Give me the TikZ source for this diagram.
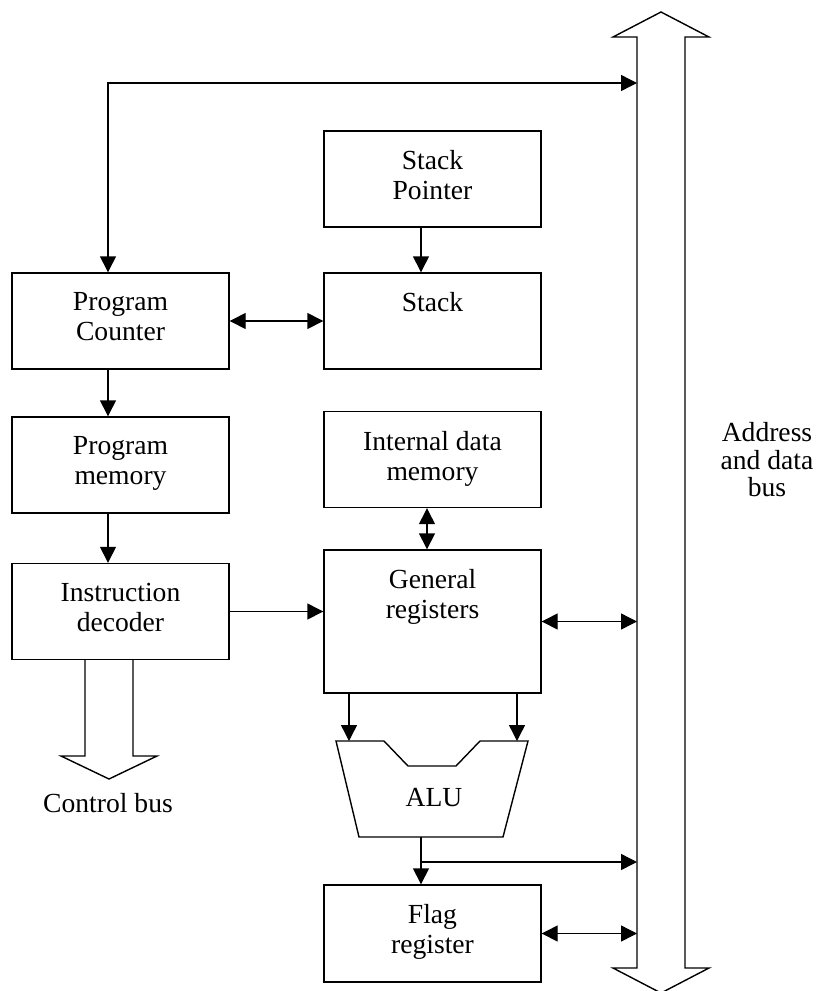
\documentclass[tikz,border=0pt]{standalone}
\usepackage{fontspec}
\setmainfont{Liberation Serif}
\usetikzlibrary{arrows.meta}
\tikzset{
    blk/.style={draw, line width=0.7pt, minimum width=108.5pt, minimum height=48pt, inner sep=0pt},
    txt/.style={anchor=north, yshift=-6.5pt, align=center, font=\fontsize{13.8}{15}\selectfont},
    arr/.style={line width=0.7pt, -{Triangle[length=8pt,width=8pt]}},
    darr/.style={line width=0.7pt, {Triangle[length=8pt,width=8pt]}-{Triangle[length=8pt,width=8pt]}},
}
\begin{document}
\begin{tikzpicture}[x=0.5pt, y=-0.5pt]
    \useasboundingbox (0,0) rectangle (815,991);

    \node[blk, label={[txt]north:Stack\\Pointer}] (sp) at (432.5,179) {};
    \node[blk, label={[txt]north:Stack}] (st) at (432.5,321) {};
    \node[blk, label={[txt]north:Program\\Counter}] (pc) at (120.5,321) {};
    \node[blk, label={[txt]north:Program\\memory}] (pm) at (120.5,465) {};
    \node[blk, label={[txt]north:Instruction\\decoder}] (id) at (120.5,611.5) {};
    \node[blk, label={[txt]north:Internal data\\memory}] (idm) at (432.5,459.5) {};
    \node[blk, minimum height=71.5pt, label={[txt]north:General\\registers}] (gr) at (432.5,621.5) {};
    \node[blk, minimum height=48.5pt, label={[txt]north:Flag\\register}] (fl) at (432.5,933.5) {};

    % address and data bus
    \draw[line width=0.7pt] (637,968) -- (637,37) -- (613,37) -- (661,12) -- (709,37) -- (685,37)
        -- (685,968) -- (709,968) -- (661,993) -- (613,968) -- cycle;
    \node[align=center, font=\fontsize{13.8}{13.75}\selectfont] (busname) at (767,460) {Address\\and data\\bus};

    \coordinate (lx) at (108,0);
    \coordinate (mx) at (421,0);
    \coordinate (busl) at (637,0);
    \coordinate (topc) at (108,83);

    \draw[darr] (lx |- pc.north) -- (topc) -- (topc -| busl);
    \draw[arr] (lx |- pc.south) -- (lx |- pm.north);
    \draw[arr] (lx |- pm.south) -- (lx |- id.north);
    \draw[arr] (mx |- sp.south) -- (mx |- st.north);
    \draw[darr] (pc.east) -- (st.west);
    \draw[darr] ([xshift=-2.75pt]idm.south) -- ([xshift=-2.75pt]gr.north);
    \draw[arr] (id.east) -- (id.east -| gr.west);
    \draw[darr] (gr.east) -- (gr.east -| busl);

    % control bus
    \draw[line width=0.7pt] (85,659) -- (85,756) -- (61,756) -- (109,779) -- (157,756) -- (133,756) -- (133,659);
    \node[font=\fontsize{13.8}{15}\selectfont] (ctrl) at (108,803) {Control bus};

    % ALU
    \coordinate (ina) at (349,741);
    \coordinate (inb) at (517,741);
    \draw[arr] (ina |- gr.south) -- (ina);
    \draw[arr] (inb |- gr.south) -- (inb);
    \draw[line width=0.7pt] (336,741) -- (384,741) -- (408,766) -- (456,766) -- (480,741) -- (528,741)
        -- (503,837) -- (359,837) -- cycle;
    \node[font=\fontsize{13.8}{15}\selectfont] (alu) at (434,798) {ALU};

    \coordinate (aluout) at (421,837);
    \coordinate (fork) at (421,862);
    \draw[arr] (aluout) -- (mx |- fl.north);
    \draw[arr] (fork) -- (fork -| busl);
    \draw[darr] (fl.east) -- (fl.east -| busl);
\end{tikzpicture}
\end{document}
